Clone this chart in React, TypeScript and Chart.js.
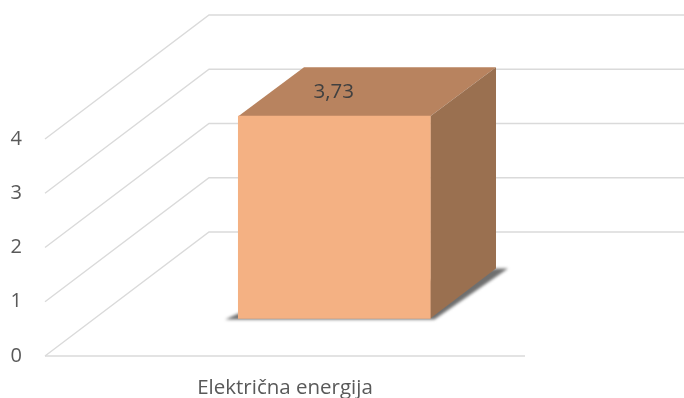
import React, { useEffect, useRef } from "react";
import { Chart, registerables } from "chart.js";

Chart.register(...registerables);

const categories = ["Električna energija"];
const values = [3.73];
const valueLabels = ["3,73"];
const yTicks = [0, 1, 2, 3, 4];

const FONT = "'Open Sans', sans-serif";
const GRID = "#DADADA";

const wall = { dx: 164, dy: -124, right: 684 };
const place = { dx: 49.3, dy: -37.5 };
const depth = { dx: 65.7, dy: -50 };

const walls3d = {
  id: "walls3d",
  beforeDatasetsDraw(chart: any) {
    const { ctx, chartArea, scales } = chart;
    const y = scales.y;
    ctx.save();
    ctx.strokeStyle = GRID;
    ctx.lineWidth = 1.4;
    yTicks.forEach((t) => {
      const py = y.getPixelForValue(t);
      ctx.beginPath();
      ctx.moveTo(chartArea.left, py);
      ctx.lineTo(chartArea.left + wall.dx, py + wall.dy);
      ctx.lineTo(wall.right, py + wall.dy);
      ctx.stroke();
    });
    const p0 = y.getPixelForValue(0);
    ctx.beginPath();
    ctx.moveTo(chartArea.left, p0);
    ctx.lineTo(chartArea.right, p0);
    ctx.stroke();
    ctx.restore();
  },
  beforeDatasetDraw(chart: any) {
    const { ctx } = chart;
    const bar = chart.getDatasetMeta(0).data[0];
    const { x, y, base, width } = bar.getProps(["x", "y", "base", "width"], true);
    const l = x - width / 2;
    const r = x + width / 2;
    ctx.save();
    ctx.translate(place.dx, place.dy);
    // soft contact shadow
    ctx.save();
    ctx.filter = "blur(1.5px)";
    ctx.fillStyle = "#6f6f6f";
    ctx.beginPath();
    ctx.moveTo(l - 13, base + 1);
    ctx.lineTo(l, base - 5);
    ctx.lineTo(r + depth.dx, base + depth.dy);
    ctx.lineTo(r + depth.dx + 12, base + depth.dy);
    ctx.lineTo(r + 4, base + 1);
    ctx.closePath();
    ctx.fill();
    ctx.restore();
    // top face
    ctx.fillStyle = "#B8835F";
    ctx.beginPath();
    ctx.moveTo(l, y);
    ctx.lineTo(l + depth.dx, y + depth.dy + 1);
    ctx.lineTo(r + depth.dx, y + depth.dy + 1);
    ctx.lineTo(r, y);
    ctx.closePath();
    ctx.fill();
    // side face
    ctx.fillStyle = "#9A7050";
    ctx.beginPath();
    ctx.moveTo(r, y);
    ctx.lineTo(r + depth.dx, y + depth.dy + 1);
    ctx.lineTo(r + depth.dx, base + depth.dy);
    ctx.lineTo(r, base);
    ctx.closePath();
    ctx.fill();
  },
  afterDatasetDraw(chart: any) {
    const { ctx } = chart;
    const bar = chart.getDatasetMeta(0).data[0];
    const { x, y } = bar.getProps(["x", "y"], true);
    ctx.fillStyle = "#404040";
    ctx.font = `20.5px ${FONT}`;
    ctx.textAlign = "center";
    ctx.textBaseline = "middle";
    ctx.fillText(valueLabels[0], x - 0.5, y - 24);
    ctx.restore();
  },
};

export default function App() {
  const ref = useRef<HTMLCanvasElement>(null);
  useEffect(() => {
    const chart = new Chart(ref.current!, {
      type: "bar",
      data: {
        labels: categories,
        datasets: [
          {
            data: values,
            backgroundColor: "#F4B183",
            barThickness: 192,
            borderWidth: 0,
            clip: false as any,
          },
        ],
      },
      options: {
        animation: false,
        responsive: false,
        layout: { padding: { left: 0, top: 139, right: 159, bottom: 0 } },
        plugins: { legend: { display: false }, tooltip: { enabled: false } },
        scales: {
          x: {
            grid: { display: false, drawTicks: false },
            border: { display: false },
            ticks: {
              color: "#595959",
              font: { family: FONT, size: 20.5 },
              padding: 20,
              maxRotation: 0,
            },
            afterFit: (s: any) => {
              s.height = 42;
            },
          },
          y: {
            min: 0,
            max: 4,
            grid: { display: false, drawTicks: false },
            border: { display: false },
            ticks: {
              color: "#595959",
              font: { family: FONT, size: 20 },
              padding: 23,
              stepSize: 1,
            },
            afterFit: (s: any) => {
              s.width = 45;
            },
          },
        },
      },
      plugins: [walls3d],
    });
    return () => chart.destroy();
  }, []);
  return (
    <div style={{ position: "absolute", left: 0, top: 0, width: 684, height: 398, background: "#fff" }}>
      <canvas ref={ref} width={684} height={398} style={{ display: "block" }} />
    </div>
  );
}
